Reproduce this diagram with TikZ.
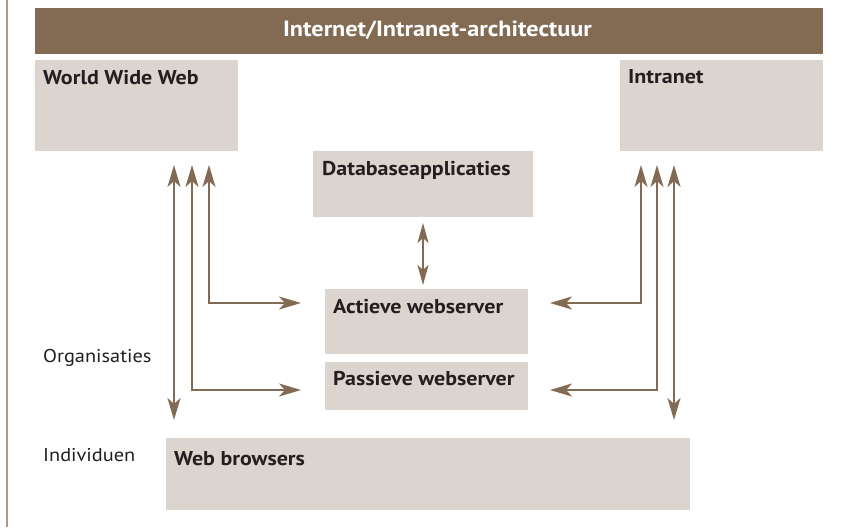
\documentclass[tikz,border=0pt]{standalone}
\usepackage{fontspec}
\setmainfont[FakeStretch=1.1]{PT Sans}
\usetikzlibrary{arrows.meta}
\definecolor{barbrown}{RGB}{131,107,83}
\definecolor{boxfill}{RGB}{220,212,206}
\definecolor{inktext}{RGB}{35,31,32}
\definecolor{rulegray}{RGB}{170,155,142}

\begin{document}
\begin{tikzpicture}[x=1pt,y=-1pt,
  box/.style={fill=boxfill, draw=none, inner sep=0pt, anchor=north west},
  boxlabel/.style={anchor=base west, inner sep=0pt, text=inktext,
    font=\fontsize{20}{22}\selectfont\bfseries},
  sidelabel/.style={anchor=base west, inner sep=0pt, text=inktext,
    font=\fontsize{18.5}{20}\selectfont},
  tip/.tip={Stealth[length=22pt,width=13pt,inset=6pt]},
  link/.style={draw=barbrown, line width=2.3pt, tip-tip},
  dblink/.style={draw=barbrown, line width=2pt,
    {Stealth[length=20pt,width=11pt,inset=5pt]}-{Stealth[length=20pt,width=11pt,inset=5pt]}}
]
\useasboundingbox (0,0) rectangle (842,527);

% rule on the left margin
\draw[rulegray, line width=2pt] (7,0) -- (7,527);

% heading bar
\node[box, fill=barbrown, minimum width=788pt, minimum height=46pt] (titlebar) at (35,8) {};
\node[anchor=base, inner sep=0pt, text=white, font=\fontsize{22}{24}\selectfont\bfseries]
  (titletext) at (437.5,36.5) {Internet/Intranet-architectuur};

% boxes
\node[box, minimum width=203pt, minimum height=91pt] (www) at (35,60) {};
\node[box, minimum width=203pt, minimum height=91pt] (intra) at (620,60) {};
\node[box, minimum width=220pt, minimum height=66pt] (db) at (313,151) {};
\node[box, minimum width=203pt, minimum height=65pt] (act) at (325,289) {};
\node[box, minimum width=203pt, minimum height=48pt] (pas) at (325,362) {};
\node[box, minimum width=524pt, minimum height=72pt] (wb) at (166,438) {};

% box captions
\node[boxlabel] (wwwtext) at (43,84) {World Wide Web};
\node[boxlabel] (intratext) at (628,83) {Intranet};
\node[boxlabel] (dbtext) at (322,175) {Databaseapplicaties};
\node[boxlabel] (acttext) at (333,313) {Actieve webserver};
\node[boxlabel] (pastext) at (333,385) {Passieve webserver};
\node[boxlabel] (wbtext) at (174,465) {Web browsers};

% side captions
\node[sidelabel] (orgtext) at (43,362) {Organisaties};
\node[sidelabel] (indtext) at (43,461) {Individuen};

% arrow end points, left side
\coordinate (la) at (174,165); \coordinate (lab) at (174,420);
\coordinate (lb) at (192,165); \coordinate (lbe) at (301,390);
\coordinate (lc) at (209,165); \coordinate (lce) at (301,303);
% arrow end points, right side
\coordinate (rc) at (641,165); \coordinate (rce) at (550,303);
\coordinate (rb) at (657,165); \coordinate (rbe) at (550,390);
\coordinate (ra) at (674,165); \coordinate (rab) at (674,420);
% database link
\coordinate (dbt) at (423,223); \coordinate (dbb) at (423,285);

\draw[link] (la) -- (lab);
\draw[link] (lb) |- (lbe);
\draw[link] (lc) |- (lce);
\draw[link] (rc) |- (rce);
\draw[link] (rb) |- (rbe);
\draw[link] (ra) -- (rab);
\draw[dblink] (dbt) -- (dbb);
\end{tikzpicture}
\end{document}
